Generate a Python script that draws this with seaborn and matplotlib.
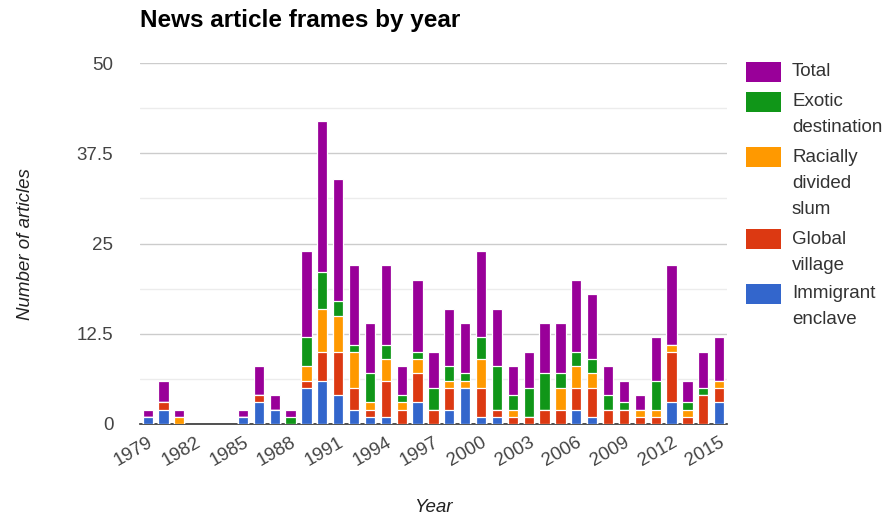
import numpy as np
import pandas as pd
import matplotlib.pyplot as plt
from matplotlib.patches import Rectangle
import seaborn as sns

# values
years = list(range(1979, 2016))
immigrant_enclave = [1, 2, 0, 0, 0, 0, 1, 3, 2, 0, 5, 6, 4, 2, 1, 1, 0, 3, 0, 2, 5, 1, 1, 0, 0, 0, 0, 2, 1, 0, 0, 0, 0, 3, 0, 0, 3]
global_village = [0, 1, 0, 0, 0, 0, 0, 1, 0, 0, 1, 4, 6, 3, 1, 5, 2, 4, 2, 3, 0, 4, 1, 1, 1, 2, 2, 3, 4, 2, 2, 1, 1, 7, 1, 4, 2]
racially_divided_slum = [0, 0, 1, 0, 0, 0, 0, 0, 0, 0, 2, 6, 5, 5, 1, 3, 1, 2, 0, 1, 1, 4, 0, 1, 0, 0, 3, 3, 2, 0, 0, 1, 1, 1, 1, 0, 1]
exotic_destination = [0, 0, 0, 0, 0, 0, 0, 0, 0, 1, 4, 5, 2, 1, 4, 2, 1, 1, 3, 2, 1, 3, 6, 2, 4, 5, 2, 2, 2, 2, 1, 0, 4, 0, 1, 1, 0]

series_names = ['Immigrant enclave', 'Global village', 'Racially divided slum', 'Exotic destination', 'Total']
legend_lines = [['Immigrant', 'enclave'], ['Global', 'village'], ['Racially', 'divided', 'slum'],
                ['Exotic', 'destination'], ['Total']]
colors = ['#3366CC', '#DC3912', '#FF9900', '#109618', '#990099']

df = pd.DataFrame({
    'Year': [str(y) for y in years],
    'Immigrant enclave': immigrant_enclave,
    'Global village': global_village,
    'Racially divided slum': racially_divided_slum,
    'Exotic destination': exotic_destination,
})
# the "Total" series is stacked on top and equals the sum of the frames
df['Total'] = df[series_names[:4]].sum(axis=1)

# cumulative heights for stacking (empty years left blank)
cum = df[series_names].cumsum(axis=1).replace(0, np.nan)

sns.set_theme(style='white')
plt.rcParams['font.family'] = ['Liberation Sans', 'DejaVu Sans']

fig = plt.figure(figsize=(8.9, 5.18), dpi=100)
ax = fig.add_axes([0.157, 0.1815, 0.66, 0.6965])

order = df['Year'].tolist()
for name, col in reversed(list(zip(series_names, colors))):
    sns.barplot(x=df['Year'], y=cum[name], color=col, order=order, ax=ax,
                width=0.64, edgecolor='white', linewidth=0.9, errorbar=None,
                saturation=1, zorder=3)

ax.set_xlim(-0.5, len(years) - 0.5)
ax.set_ylim(0, 50)
ax.set_yticks([0, 12.5, 25, 37.5, 50])
ax.set_yticklabels(['0', '12.5', '25', '37.5', '50'])
ax.set_yticks(np.arange(0, 50.1, 6.25), minor=True)
ax.grid(axis='y', which='major', color='#cccccc', linewidth=1, zorder=0)
ax.grid(axis='y', which='minor', color='#ececec', linewidth=1, zorder=0)
ax.set_axisbelow(True)

tick_pos = list(range(0, len(years), 3))
ax.set_xticks(tick_pos)
ax.set_xticklabels([str(years[i]) for i in tick_pos], rotation=30, ha='right',
                   rotation_mode='anchor', fontsize=13.5, color='#444444')
ax.tick_params(axis='y', labelsize=13.5, labelcolor='#444444', length=0, pad=19)
ax.tick_params(axis='x', length=0, pad=7)

for s in ['top', 'right', 'left']:
    ax.spines[s].set_visible(False)
ax.spines['bottom'].set_color('#333333')
ax.spines['bottom'].set_linewidth(1.2)

ax.set_xlabel('Year', fontsize=13.5, style='italic', color='#222222', labelpad=21)
ax.set_ylabel('Number of articles', fontsize=13.5, style='italic', color='#222222', labelpad=31)

fig.text(140 / 890, 1 - 21 / 518, 'News article frames by year', fontsize=17.5,
         fontweight='bold', color='black', va='center', ha='left')

# legend drawn by hand so the swatch sits beside the first line of text
legend_top = [284, 229, 147, 92, 62]
for lines, col, top in zip(legend_lines, colors, legend_top):
    fig.add_artist(Rectangle((746 / 890, 1 - (top + 20) / 518), 35 / 890, 20 / 518,
                             transform=fig.transFigure, facecolor=col, edgecolor='none'))
    for k, line in enumerate(lines):
        y = top + 10 + 26 * k
        fig.text(792 / 890, 1 - y / 518, line, fontsize=13.5, color='#333333',
                 va='center', ha='left')

plt.savefig('out.png', dpi=100)
